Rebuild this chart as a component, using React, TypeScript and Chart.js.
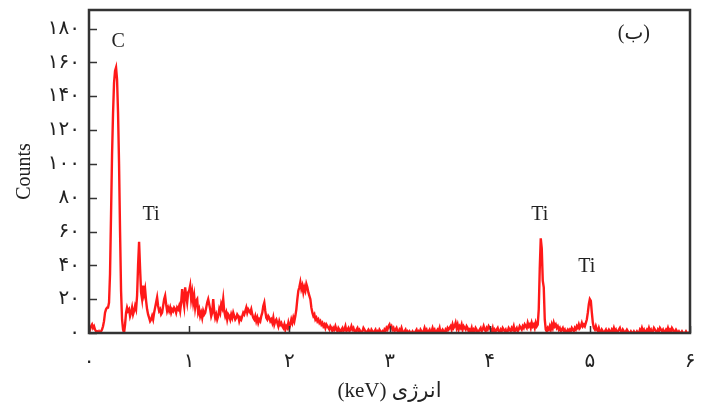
import React, { useEffect, useRef } from 'react';
import { Chart, registerables } from 'chart.js';

Chart.register(...registerables);

// channel width of the spectrum (keV per channel)
const energyStep = 0.01;

// counts per channel, 0.00 … 6.00 keV (rows of 0.2 keV)
const counts: number[] = [
  3, 2, 4, 5, 3, 4, 2, 1, 1, 0, 1, 0, 1, 2, 4, 7, 12, 14, 15, 15,
  18, 35, 70, 105, 130, 148, 155, 157, 150, 130, 100, 60, 25, 8, 2, 0, 5, 12, 15, 13,
  14, 10, 12, 15, 11, 13, 16, 14, 22, 40, 54, 38, 24, 20, 28, 23, 26, 19, 14, 11,
  9, 7, 8, 10, 8, 12, 15, 18, 21, 16, 13, 14, 11, 12, 16, 20, 22, 17, 13, 15,
  13, 15, 12, 14, 13, 15, 14, 12, 15, 14, 16, 13, 18, 26, 20, 16, 27, 22, 18, 24,
  25, 28, 20, 24, 18, 22, 15, 19, 20, 12, 14, 10, 12, 9, 13, 11, 12, 15, 18, 20,
  17, 14, 10, 12, 20, 13, 9, 11, 8, 10, 14, 12, 17, 15, 20, 13, 10, 12, 8, 11,
  10, 8, 11, 9, 12, 10, 8, 9, 11, 10, 7, 9, 8, 10, 12, 11, 13, 15, 12, 14,
  13, 12, 14, 11, 9, 8, 10, 7, 9, 6, 8, 7, 10, 12, 16, 18, 13, 9, 8, 10,
  9, 7, 8, 6, 9, 5, 7, 8, 6, 4, 7, 5, 6, 4, 3, 5, 2, 4, 3, 6,
  3, 5, 8, 6, 9, 7, 10, 14, 20, 25, 27, 30, 26, 28, 24, 27, 25, 29, 27, 24,
  22, 20, 15, 12, 10, 11, 8, 9, 7, 8, 6, 7, 5, 6, 4, 5, 3, 5, 4, 3,
  2, 4, 3, 1, 3, 2, 4, 2, 1, 3, 2, 0, 2, 3, 1, 2, 4, 1, 2, 3,
  1, 2, 4, 2, 3, 1, 0, 2, 3, 1, 2, 1, 0, 1, 3, 2, 1, 0, 1, 2,
  1, 0, 2, 1, 0, 1, 2, 0, 1, 0, 2, 1, 0, 1, 0, 2, 1, 3, 2, 4,
  5, 3, 4, 2, 3, 1, 2, 3, 1, 0, 2, 1, 3, 1, 0, 1, 2, 0, 1, 0,
  1, 0, 0, 1, 0, 0, 1, 2, 0, 1, 0, 2, 1, 0, 1, 3, 1, 2, 0, 1,
  2, 0, 1, 3, 1, 2, 0, 1, 2, 1, 3, 0, 1, 2, 1, 0, 2, 1, 3, 2,
  3, 4, 2, 5, 3, 4, 6, 3, 5, 2, 4, 3, 5, 2, 4, 3, 2, 4, 3, 1,
  2, 1, 3, 0, 2, 1, 3, 2, 0, 1, 2, 3, 1, 2, 4, 2, 1, 3, 2, 4,
  3, 2, 1, 3, 0, 2, 1, 2, 3, 1, 0, 2, 1, 3, 2, 1, 2, 0, 1, 3,
  2, 1, 3, 2, 4, 1, 2, 3, 1, 2, 4, 3, 2, 4, 3, 5, 4, 3, 6, 4,
  5, 3, 6, 4, 5, 3, 6, 4, 5, 14, 38, 56, 50, 31, 27, 8, 2, 1, 3, 2,
  4, 2, 5, 3, 6, 4, 5, 3, 4, 2, 3, 1, 2, 3, 1, 2, 0, 1, 2, 1,
  2, 1, 3, 2, 1, 3, 2, 4, 3, 5, 3, 4, 6, 4, 5, 4, 6, 8, 12, 17,
  20, 19, 12, 6, 3, 2, 4, 2, 1, 3, 1, 0, 2, 1, 0, 1, 2, 0, 1, 2,
  1, 0, 2, 1, 3, 1, 2, 0, 1, 2, 3, 1, 0, 2, 1, 0, 1, 2, 1, 0,
  0, 1, 0, 0, 1, 0, 0, 1, 0, 0, 2, 1, 3, 1, 2, 0, 1, 2, 1, 3,
  1, 2, 0, 1, 3, 2, 1, 0, 2, 1, 3, 2, 1, 2, 0, 1, 2, 1, 3, 1,
  2, 1, 3, 2, 0, 1, 2, 1, 0, 1, 0, 0, 1, 0, 0, 0, 1, 0, 0, 0,
  1,
];

const xTickValues = [0, 1, 2, 3, 4, 5, 6];
const xTickLabels = ['۰', '۱', '۲', '۳', '۴', '۵', '۶'];
const yTickValues = [0, 20, 40, 60, 80, 100, 120, 140, 160, 180];
const yTickLabels = ['۰', '۲۰', '۴۰', '۶۰', '۸۰', '۱۰۰', '۱۲۰', '۱۴۰', '۱۶۰', '۱۸۰'];

const xTitle = '(keV) انرژی';
const yTitle = 'Counts';

// peak annotations (text, energy keV, counts)
const peakLabels = ['C', 'Ti', 'Ti', 'Ti', '(ب)'];
const peakLabelX = [0.29, 0.62, 4.5, 4.97, 5.44];
const peakLabelY = [172, 70, 70, 39, 177];

const serif = "'Liberation Serif', 'DejaVu Sans', serif";
const digitFont = "'DejaVu Sans', sans-serif";

const framePlugin = {
  id: 'frameAndLabels',
  afterDatasetsDraw(chart: any) {
    const { ctx, chartArea: a, scales } = chart;
    const xs = scales.x;
    const ys = scales.y;
    ctx.save();
    ctx.strokeStyle = '#333';
    ctx.lineWidth = 1.5;
    ctx.beginPath();
    xTickValues.forEach((v) => {
      const px = Math.round(xs.getPixelForValue(v)) + 0.5;
      ctx.moveTo(px, a.bottom);
      ctx.lineTo(px, a.bottom - 7);
    });
    yTickValues.forEach((v) => {
      const py = Math.round(ys.getPixelForValue(v)) + 0.5;
      ctx.moveTo(a.left, py);
      ctx.lineTo(a.left + 8, py);
    });
    ctx.stroke();
    ctx.lineWidth = 2.5;
    ctx.strokeRect(a.left, a.top, a.right - a.left, a.bottom - a.top);

    ctx.fillStyle = '#222';
    ctx.font = `20px ${serif}`;
    ctx.textAlign = 'center';
    ctx.textBaseline = 'middle';
    peakLabels.forEach((t, i) => {
      ctx.fillText(t, xs.getPixelForValue(peakLabelX[i]), ys.getPixelForValue(peakLabelY[i]));
    });
    ctx.restore();
  },
};

export default function App() {
  const ref = useRef<HTMLCanvasElement | null>(null);

  useEffect(() => {
    if (!ref.current) return;
    const points = counts.map((c, i) => ({ x: Math.round(i * energyStep * 100) / 100, y: c }));
    const chart = new Chart(ref.current, {
      type: 'line',
      data: {
        datasets: [
          {
            data: points,
            borderColor: 'rgba(255,0,0,0.9)',
            borderWidth: 2.4,
            pointRadius: 0,
            tension: 0,
            fill: false,
          },
        ],
      },
      options: {
        animation: false,
        responsive: false,
        devicePixelRatio: 1,
        parsing: false as any,
        layout: { padding: { top: 10, right: 12, left: 0, bottom: 0 } },
        plugins: { legend: { display: false }, tooltip: { enabled: false } },
        scales: {
          x: {
            type: 'linear',
            min: 0,
            max: 6,
            grid: { display: false },
            border: { display: false },
            afterBuildTicks: (s: any) => {
              s.ticks = xTickValues.map((v) => ({ value: v }));
            },
            afterFit: (s: any) => {
              s.height = 72;
              s.paddingLeft = 0;
              s.paddingRight = 0;
            },
            ticks: {
              autoSkip: false,
              maxRotation: 0,
              padding: 9,
              color: '#222',
              font: { family: digitFont, size: 20 },
              callback: (v: any) => xTickLabels[xTickValues.indexOf(Number(v))] ?? '',
            },
            title: {
              display: true,
              text: xTitle,
              color: '#222',
              font: { family: serif, size: 21 },
              padding: { top: 0, bottom: 1 },
            },
          },
          y: {
            type: 'linear',
            min: 0,
            max: 191,
            grid: { display: false },
            border: { display: false },
            afterBuildTicks: (s: any) => {
              s.ticks = yTickValues.map((v) => ({ value: v }));
            },
            afterFit: (s: any) => {
              s.width = 89;
              s.paddingTop = 0;
              s.paddingBottom = 0;
            },
            ticks: {
              autoSkip: false,
              padding: 1,
              color: '#222',
              font: { family: digitFont, size: 20 },
              callback: (v: any) => yTickLabels[yTickValues.indexOf(Number(v))] ?? '',
            },
            title: {
              display: true,
              text: yTitle,
              color: '#222',
              font: { family: serif, size: 20 },
              padding: { top: 13, bottom: 0 },
            },
          },
        },
      },
      plugins: [framePlugin],
    });
    return () => chart.destroy();
  }, []);

  return (
    <div style={{ position: 'fixed', left: 0, top: 0, width: 702, height: 405, background: '#fff' }}>
      <canvas ref={ref} width={702} height={405} />
    </div>
  );
}
